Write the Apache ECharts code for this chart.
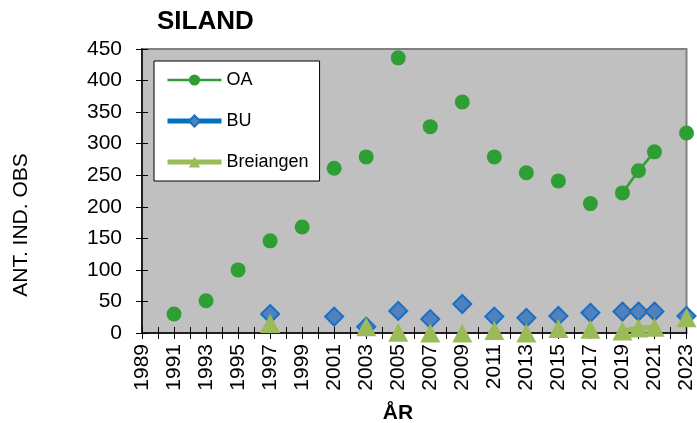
<!DOCTYPE html>
<html>
<head>
<meta charset="utf-8">
<script src="https://cdn.jsdelivr.net/npm/echarts@6/dist/echarts.min.js"></script>
<style>
  html, body { margin: 0; padding: 0; background: #fff; }
  #chart { width: 697px; height: 423px; }
</style>
</head>
<body>
<div id="chart"></div>
<script>
// data
const years = [1991, 1993, 1995, 1997, 1999, 2001, 2003, 2005, 2007, 2009, 2011, 2013, 2015, 2017, 2019, 2020, 2021, 2023]
const oa = [30, 51, 100, 146, 168, 261, 279, 436, 327, 366, 279, 254, 241, 205, 222, 257, 287, 317]
const bu = [null, null, null, 30, null, 26, 10, 35, 22, 46, 26, 24, 27, 32, 34, 34, 34, 27]
const breiangen = [null, null, null, 15, null, null, 10, 1, 0, 0, 4, 0, 7, 6, 3, 8, 9, 24]

const FONT = 'Liberation Sans, Arial, sans-serif'

// insert a gap where years are not consecutive, so lines only join neighbouring years
const toData = (vals) => {
  const out = []
  years.forEach((y, i) => {
    if (i > 0 && y - years[i - 1] > 1) out.push([years[i - 1] + 1, null])
    out.push([y, vals[i]])
  })
  return out
}

const chart = echarts.init(document.getElementById('chart'))

const xBase = {
  type: 'value', min: 1989, max: 2023, interval: 1,
  splitLine: { show: false }
}
const yBase = {
  type: 'value', min: 0, max: 450, interval: 50, position: 'left',
  splitLine: { show: false }
}

chart.setOption({
  animation: false,
  textStyle: { fontFamily: FONT },
  title: {
    text: 'SILAND', left: 157, top: 9, padding: 0,
    textStyle: { fontSize: 26, fontWeight: 'bold', color: '#000', fontFamily: FONT }
  },
  legend: {
    orient: 'vertical', left: 154, top: 61,
    padding: [10, 11, 10, 11],
    itemWidth: 54, itemHeight: 14, itemGap: 23,
    backgroundColor: '#fff', borderColor: '#000', borderWidth: 1,
    textStyle: { fontSize: 18, color: '#000', fontFamily: FONT },
    data: [
      { name: 'OA', lineStyle: { width: 2.5 } },
      { name: 'BU', lineStyle: { width: 5 } },
      { name: 'Breiangen', lineStyle: { width: 5 } }
    ]
  },
  grid: {
    left: 142, right: 9, top: 49, bottom: 90,
    show: true, backgroundColor: '#C0C0C0', borderColor: '#808080', borderWidth: 2
  },
  xAxis: [
    Object.assign({}, xBase, {
      axisLine: { lineStyle: { color: '#000', width: 1.5 } },
      axisTick: { inside: false, length: 6, lineStyle: { color: '#000' } },
      axisLabel: {
        rotate: 90, margin: 11, fontSize: 21, color: '#000', fontFamily: FONT,
        formatter: (v) => ((v - 1989) % 2 === 0 ? String(v) : '')
      }
    }),
    Object.assign({}, xBase, {
      position: 'bottom',
      axisLine: { show: false },
      axisTick: { inside: true, length: 6, lineStyle: { color: '#000' } },
      axisLabel: { show: false }
    })
  ],
  yAxis: [
    Object.assign({}, yBase, {
      axisLine: { show: true, lineStyle: { color: '#000', width: 1.5 } },
      axisTick: { show: true, inside: false, length: 6, lineStyle: { color: '#000' } },
      axisLabel: { margin: 20, fontSize: 21, color: '#000', fontFamily: FONT }
    }),
    Object.assign({}, yBase, {
      axisLine: { show: false },
      axisTick: { show: true, inside: true, length: 6, lineStyle: { color: '#000' } },
      axisLabel: { show: false }
    })
  ],
  graphic: [
    {
      type: 'text', x: 21, y: 225, rotation: Math.PI / 2,
      style: {
        text: 'ANT. IND. OBS', fontSize: 21, fontFamily: FONT, fill: '#000',
        textAlign: 'center', textVerticalAlign: 'middle'
      }
    },
    {
      type: 'text', x: 398, y: 413,
      style: {
        text: 'ÅR', fontSize: 21, fontWeight: 'bold', fontFamily: FONT, fill: '#000',
        textAlign: 'center', textVerticalAlign: 'middle'
      }
    }
  ],
  series: [
    {
      name: 'OA', type: 'line', data: toData(oa),
      symbol: 'circle', symbolSize: 15,
      lineStyle: { color: '#2E9E35', width: 2.5 },
      itemStyle: { color: '#2E9E35' }
    },
    {
      name: 'BU', type: 'line', data: toData(bu),
      symbol: 'diamond', symbolSize: 18,
      lineStyle: { color: '#0070C0', width: 5 },
      itemStyle: { color: '#4F81BD', borderColor: '#1A6FC4', borderWidth: 2 }
    },
    {
      name: 'Breiangen', type: 'line', data: toData(breiangen),
      symbol: 'triangle', symbolSize: [20, 19],
      lineStyle: { color: '#9BBB59', width: 5 },
      itemStyle: { color: '#9BBB59' }
    }
  ]
})
</script>
</body>
</html>
